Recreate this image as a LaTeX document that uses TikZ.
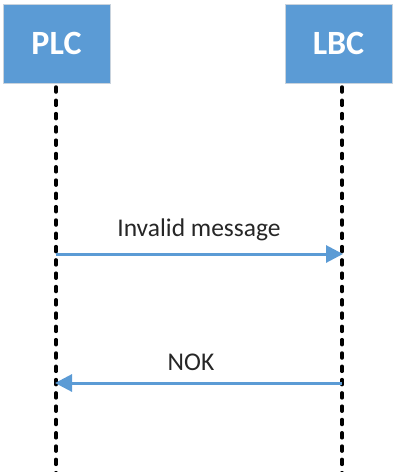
\documentclass[tikz,border=0pt]{standalone}
\usepackage{fontspec}
\setmainfont{Carlito}
\usetikzlibrary{arrows.meta}
\definecolor{officeblue}{HTML}{5B9BD5}
\definecolor{boxedge}{HTML}{C9D3DD}
\tikzset{
  actor/.style={draw=boxedge, line width=0.8pt, fill=officeblue, minimum width=107pt, minimum height=79pt, inner sep=0pt, text=white, font=\fontsize{34}{38}\selectfont\bfseries},
  lifeline/.style={line width=3.5pt, dash pattern=on 5pt off 8.3pt, line cap=round, black},
  msg/.style={officeblue, line width=3pt, -{Triangle[length=17pt,width=17pt]}, shorten >=-1pt},
  msglabel/.style={font=\fontsize{25.5}{30}\selectfont, text=black!85, inner sep=0pt}
}
\begin{document}
\begin{tikzpicture}[x=1pt,y=-1pt]
\useasboundingbox (0,0) rectangle (392,472);
\node[actor] (plc) at (56.5,43.5) {PLC};
\node[actor] (lbc) at (338.5,43.5) {LBC};
\coordinate (plcend) at (56,476);
\coordinate (lbcend) at (342,476);
\coordinate (plctop) at (56,87);
\coordinate (lbctop) at (342,87);
\draw[lifeline] (plctop) -- (plcend);
\draw[lifeline] (lbctop) -- (lbcend);
\coordinate (m1s) at (56,254);
\coordinate (m1e) at (342,254);
\coordinate (m2s) at (342,383);
\coordinate (m2e) at (56,383);
\draw[msg] (m1s) -- node[msglabel, above=12pt] {Invalid message} (m1e);
\draw[msg] (m2s) -- node[msglabel, above=11pt, xshift=-8pt] {NOK} (m2e);
\end{tikzpicture}
\end{document}
